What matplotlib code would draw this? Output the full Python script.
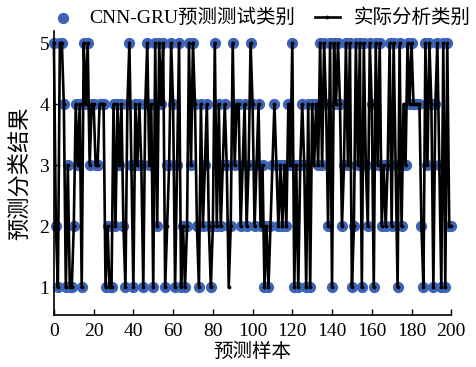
import numpy as np
import matplotlib
matplotlib.use('Agg')
import matplotlib.pyplot as plt

# 字体：数字用 Times 风格，中文用 Noto CJK
plt.rcParams['font.family'] = ['Liberation Serif', 'Noto Sans CJK SC']
plt.rcParams['axes.unicode_minus'] = False

# 实际分析类别（样本 0~200）
actual = [5, 2, 1, 5, 5, 4, 1, 3, 1, 1, 2, 4, 3, 4, 1, 5, 4, 5, 3, 4,
          4, 3, 3, 4, 4, 4, 1, 2, 1, 1, 4, 2, 4, 3, 4, 2, 1, 4, 5, 3,
          1, 4, 3, 4, 3, 1, 4, 5, 3, 4, 1, 5, 2, 5, 4, 5, 1, 2, 3, 5,
          4, 1, 3, 5, 1, 2, 1, 2, 5, 3, 5, 4, 2, 1, 4, 2, 3, 4, 2, 1,
          2, 5, 2, 4, 2, 3, 4, 3, 1, 2, 5, 3, 4, 4, 2, 3, 4, 2, 3, 5,
          4, 2, 3, 4, 2, 3, 1, 2, 1, 2, 3, 4, 3, 2, 3, 2, 3, 2, 4, 3,
          5, 1, 3, 1, 3, 4, 3, 1, 4, 1, 4, 3, 4, 3, 5, 3, 5, 4, 2, 5,
          1, 5, 4, 5, 4, 2, 3, 5, 3, 5, 1, 2, 5, 3, 5, 1, 5, 3, 2, 5,
          4, 1, 5, 3, 5, 2, 3, 2, 3, 5, 2, 5, 3, 1, 5, 2, 4, 3, 5, 4,
          5, 4, 4, 4, 4, 2, 1, 5, 3, 5, 4, 1, 4, 5, 3, 1, 5, 1, 5, 2,
          2]

# CNN-GRU 预测类别（与实际不一致的样本单独改写）
predicted = list(actual)
predicted[88] = 2
predicted[57] = 3
predicted[131] = 4
predicted[176] = 3

samples = np.arange(len(actual))

fig = plt.figure(figsize=(4.77, 3.67), dpi=100)
ax = fig.add_axes([0.113, 0.142, 0.833, 0.774])

ax.scatter(samples, predicted, s=50, color='#3C63B5', zorder=2,
           clip_on=False, label='CNN-GRU预测测试类别')
ax.plot(samples, actual, color='black', lw=1.9, marker='.', ms=3.5,
        zorder=3, clip_on=False, label='实际分析类别')

ax.set_xlim(0, 200)
ax.set_ylim(0.55, 5.2)
ax.set_xticks(np.arange(0, 201, 20))
ax.set_yticks([1, 2, 3, 4, 5])
ax.tick_params(direction='in', labelsize=14, length=4, width=1)
ax.tick_params(axis='x', pad=6)
ax.spines['top'].set_visible(False)
ax.spines['right'].set_visible(False)
for s in ['left', 'bottom']:
    ax.spines[s].set_linewidth(1.2)

ax.set_xlabel('预测样本', fontsize=14, labelpad=2)
ax.set_ylabel('预测分类结果', fontsize=16, labelpad=6)

ax.legend(loc='lower center', bbox_to_anchor=(0.52, 0.985), ncol=2,
          frameon=False, fontsize=14, handlelength=1.3, columnspacing=1.0,
          handletextpad=0.7, borderaxespad=0)

plt.savefig('out.png', dpi=100)
